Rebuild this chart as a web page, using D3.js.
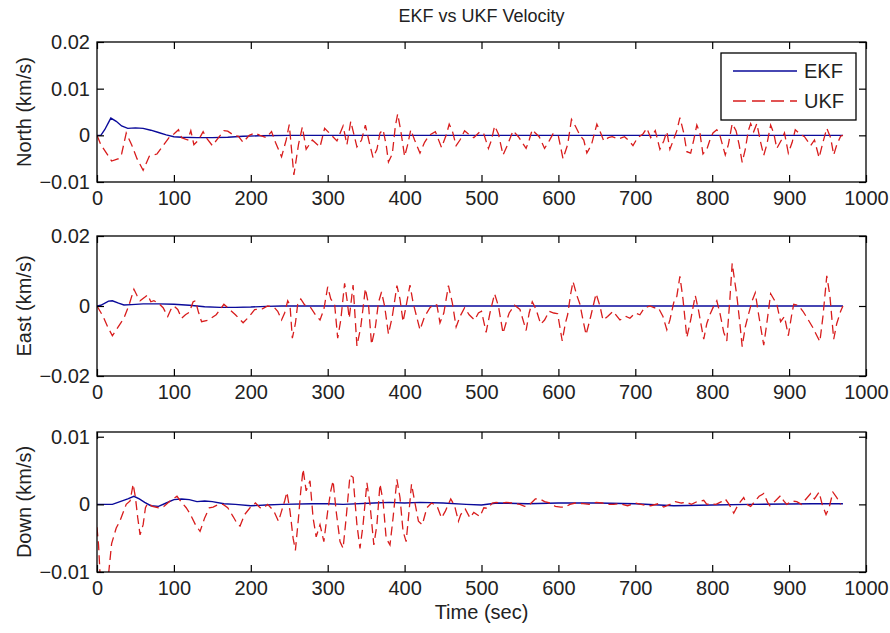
<!DOCTYPE html>
<html><head><meta charset="utf-8">
<script src="https://cdn.jsdelivr.net/npm/d3@7"></script>
<style>
body{margin:0;background:#fff;}
svg{display:block;}
text{font-family:"Liberation Sans",Arial,sans-serif;}
</style></head>
<body><svg id="c" width="890" height="633"></svg>
<script>
const chartTitle = "EKF vs UKF Velocity";
const xLabel = "Time (sec)";
const xTicks = [0,100,200,300,400,500,600,700,800,900,1000];
const panelNames = ["North (km/s)","East (km/s)","Down (km/s)"];
const northTicks = [-0.01,0,0.01,0.02];
const eastTicks = [-0.02,0,0.02];
const downTicks = [-0.01,0,0.01];
const legendNames = ["EKF","UKF"];

const northEkfT = [0,5,10,18,25,32,40,50,60,70,80,90,100,110,130,150,170,190,210,250,970];
const northEkfV = [0,0,0.0012,0.0037,0.003,0.002,0.0015,0.0016,0.0015,0.0011,0.0006,0.0001,-0.0003,-0.0004,-0.0005,-0.0005,-0.0004,-0.0002,-0.0001,0,0];
const northUkfT = [0,5,19,28,32,38,45,52,60,68,78,95,100,106,110,118,122,126,132,138,142,150,158,165,170,178,184,190,198,205,212,220,227,232,240,246,250,256,262,267,272,280,290,296,305,312,320,325,330,338,344,349,354,359,364,368,372,376,379,384,388,391,395,400,404,408,413,420,426,432,440,448,454,458,462,467,472,478,483,490,498,503,509,513,517,522,528,534,541,548,558,562,566,570,575,582,588,593,600,606,612,617,622,628,633,637,643,650,655,659,665,670,678,686,692,697,703,710,715,720,726,732,737,741,745,750,754,758,763,767,772,776,780,784,788,793,797,801,806,810,817,821,826,831,835,839,843,847,850,854,858,863,867,871,876,880,884,890,894,899,904,908,914,920,928,933,939,944,949,954,958,962,967,970];
const northUkfV = [0,-0.002,-0.0055,-0.005,-0.004,0.0005,-0.002,-0.005,-0.0075,-0.0045,-0.004,-0.0002,0.0003,0.0012,-0.0005,-0.001,0.001,-0.002,-0.001,0.0008,-0.0005,-0.0022,-0.0005,0.001,0.0009,0,-0.0002,-0.0015,0,0.0005,0,-0.0005,0.0008,-0.0015,-0.0046,-0.001,0.0023,-0.0085,-0.002,0.0018,-0.003,-0.001,-0.0025,0.0015,0,-0.0012,0.002,-0.002,0.003,-0.0025,-0.001,0.0022,-0.0015,-0.0048,-0.003,0.0005,0.0012,-0.002,-0.0057,-0.004,0.002,0.0046,0.001,-0.0045,-0.002,0.0012,-0.001,-0.0038,-0.0015,0,0.0008,-0.0026,0,0.0024,0.001,-0.0022,-0.001,0.001,0.0003,-0.0005,0.0008,0.0003,-0.0028,-0.001,0.002,0.0003,-0.0042,-0.002,0.001,-0.0003,-0.0028,-0.001,0.0012,0.0005,-0.0003,-0.0028,-0.0012,0.0003,-0.0002,-0.005,-0.002,0.0034,0.002,0,-0.001,-0.0038,-0.002,0.0024,0.0005,-0.0012,-0.0005,-0.0003,-0.0008,-0.0003,-0.0012,-0.0022,-0.0005,0.0003,0.0015,-0.0005,0.001,-0.003,-0.0012,0.0008,-0.003,-0.0008,0.001,0.0038,0.0005,-0.0035,-0.0038,-0.001,0.0022,0.0005,-0.004,-0.003,-0.001,0.0005,0.0012,0,-0.0042,-0.002,0.0025,0.001,-0.002,-0.0058,-0.003,0.001,0.0025,0.0008,0.0025,-0.0015,-0.0043,-0.002,0.0022,0.0005,-0.0028,-0.001,0.0005,-0.0038,-0.0015,0.0012,0.0003,-0.0003,-0.0022,-0.001,-0.0048,-0.0015,0.0015,-0.0005,-0.0042,-0.002,-0.0002,0];

const eastEkfT = [0,5,15,20,28,35,45,60,80,100,120,140,160,180,200,220,240,970];
const eastEkfV = [0,0.0002,0.0014,0.0015,0.0008,0.0003,0.0004,0.0006,0.0006,0.0005,0.0002,-0.0002,-0.0004,-0.0004,-0.0003,-0.0001,0,0];
const eastUkfT = [0,8,14,20,26,35,42,48,52,56,62,66,70,74,80,86,92,96,100,105,110,115,120,125,128,132,136,145,155,160,165,170,180,190,198,205,215,222,230,235,240,244,248,251,254,258,261,265,270,278,284,290,295,300,304,309,313,317,322,325,328,333,338,343,349,353,357,362,366,370,374,379,384,390,394,398,402,407,411,415,420,426,433,438,442,446,451,457,462,467,472,478,484,491,496,500,506,511,517,522,528,533,536,543,550,558,562,566,571,577,582,588,594,599,605,609,612,616,619,624,628,632,636,642,649,654,658,664,671,680,688,693,700,706,712,719,725,730,736,741,745,750,754,758,762,767,772,778,782,789,793,797,802,806,810,815,819,823,826,830,832,836,839,843,847,852,856,860,867,871,876,880,884,889,894,899,903,906,912,918,925,931,935,940,944,949,953,958,962,967,970];
const eastUkfV = [0,-0.003,-0.006,-0.0085,-0.0065,-0.0035,0.0005,0.0048,0.003,0.0015,0.0025,0.0032,0.0012,0.0015,0.0008,-0.0005,-0.003,-0.001,0,-0.001,-0.0035,-0.0025,-0.0018,0.0012,0.0015,-0.0018,-0.0045,-0.004,-0.0025,-0.001,0.0005,-0.0005,-0.0025,-0.0048,-0.003,-0.001,-0.0008,0,-0.0003,-0.0015,-0.004,-0.002,0.0015,0.0002,-0.0092,-0.005,0.0005,0.002,0.0003,-0.0005,-0.0025,-0.004,-0.001,0.0055,0.002,0.0005,-0.0092,-0.004,0.0065,0.002,-0.0035,0.006,-0.0114,-0.006,0.005,0.0005,-0.011,-0.006,0.001,0.004,0,-0.008,-0.003,0.0058,0.002,-0.0045,0,0.006,0.001,-0.0025,-0.0068,-0.003,-0.0005,0.0005,0.0003,-0.0048,-0.002,0.0058,0.001,-0.006,-0.003,-0.0005,-0.0025,-0.004,-0.002,-0.0015,-0.0075,-0.002,0.0035,0,-0.0078,-0.004,-0.002,0.0002,-0.001,-0.007,-0.002,0.0012,-0.001,-0.0052,-0.004,-0.0015,-0.002,-0.0022,-0.01,-0.005,-0.0025,0.0035,0.007,0.003,0.0005,-0.004,-0.0082,-0.003,0.0035,0,-0.004,-0.003,-0.0015,-0.004,-0.003,-0.0035,-0.002,-0.0025,-0.0005,0,-0.0005,-0.0005,-0.003,-0.0068,-0.004,0.001,0.0028,0.0085,0.002,-0.009,-0.004,0.003,-0.001,-0.0095,-0.005,-0.0025,0,0.0015,-0.002,-0.0075,-0.01,0.002,0.0122,0.006,0.003,-0.005,-0.0116,-0.006,-0.0025,0.0015,0.0038,-0.002,-0.0112,-0.005,0.0035,0.002,0.0005,-0.0045,-0.003,-0.0085,-0.003,0.0005,0.0002,-0.0015,-0.004,-0.0062,-0.008,-0.0102,-0.003,0.0086,0.003,-0.0095,-0.005,-0.0015,0];

const downEkfT = [0,20,30,40,48,55,62,70,80,90,100,110,120,130,140,150,165,180,200,220,240,280,300,320,360,380,400,420,450,480,500,520,560,600,650,700,750,800,850,930,970];
const downEkfV = [0,0,0.0004,0.0008,0.0012,0.0008,0.0003,-0.0002,-0.0003,0.0002,0.0007,0.0008,0.0007,0.0004,0.0005,0.0004,0.0001,0,-0.0002,-0.0001,0,0.0001,0.0001,0,0.0002,0.0003,0.0002,0.0003,0.0002,0,-0.0001,0.0002,0.0001,0.0002,0.0002,0.0001,-0.0002,-0.0001,0,0.0001,0.0001];
const downUkfT = [0,2,5,10,14,19,25,30,38,43,47,50,53,56,60,63,66,72,80,87,95,104,110,116,121,128,134,140,146,151,158,164,170,177,183,186,192,199,206,212,216,222,230,236,240,244,247,251,255,258,262,265,268,272,277,281,285,290,295,300,304,307,311,316,320,324,329,333,338,342,346,351,355,360,364,368,372,376,381,385,390,394,398,402,405,409,413,418,423,429,435,442,448,453,460,465,470,473,479,485,490,498,503,508,514,519,526,532,540,550,556,562,570,576,582,589,596,603,609,615,622,632,640,649,657,665,672,680,690,700,712,720,730,737,745,752,760,767,773,780,786,789,793,797,805,812,817,822,828,834,841,845,850,856,861,867,872,875,882,889,893,897,903,910,916,922,928,933,939,943,948,952,957,962,967];
const downUkfV = [-0.0034,-0.006,-0.0125,-0.014,-0.0115,-0.0058,-0.0035,-0.0024,0,0.0005,0.003,0.001,-0.002,-0.0045,-0.003,-0.0005,0.0002,-0.0003,-0.0005,-0.0003,0.0005,0.0012,0.0003,-0.0005,-0.0014,-0.003,-0.004,-0.002,-0.0005,-0.0004,0,0,-0.0005,-0.0018,-0.003,-0.0032,-0.0015,-0.0005,0.0002,-0.0005,-0.0006,0,-0.001,-0.0025,-0.001,0.0005,0.0018,-0.001,-0.005,-0.0068,-0.002,0.002,0.0052,0.002,0.0035,-0.002,-0.0048,-0.003,-0.0055,-0.001,0.002,0.0035,-0.001,-0.0055,-0.0065,-0.002,0.0043,0.004,-0.003,-0.0065,-0.003,0.0032,0,-0.006,-0.003,0.003,0.0005,-0.005,-0.006,-0.002,0.0037,0.001,-0.004,-0.0055,-0.002,0.003,0.0005,-0.0025,-0.003,-0.0005,0.0002,-0.0002,-0.002,-0.001,0.0008,-0.0002,-0.0025,-0.0015,-0.0007,-0.002,-0.0012,-0.0018,-0.0005,-0.0006,0.0002,0.0003,0.0002,0.0003,0.0002,0,-0.0003,-0.0001,0.0008,0.0008,0.0004,0.0002,-0.0003,-0.0004,-0.0004,0,0.0002,0.0001,0,0.0003,0.0002,0,0,0.0001,-0.0002,0.0002,-0.0001,-0.0002,0.0001,-0.0004,0,0.0004,0.0002,0.0003,0,0.0004,0.0005,0.0006,0,0.0001,0,0.0004,0.0008,0,-0.0013,0,0.001,0,-0.0003,0.0005,0.0012,0.0016,0.0003,-0.0002,0.0005,0.0013,0.0005,0,0.0005,0.0004,0,0.0008,0.0016,0.0008,0.0018,0,-0.0015,-0.0005,0.0018,0.001,0];

const ekfColor = "#0a0a9a";
const ukfColor = "#d81c1c";

const svg = d3.select("#c");
const left = 97, right = 866, ph = 140;
const tops = [42, 236, 432];
const x = d3.scaleLinear().domain([0,1000]).range([left,right]);

const panels = [
  {name: panelNames[0], dom: [-0.01,0.02], ticks: northTicks, ekf: [northEkfT,northEkfV], ukf: [northUkfT,northUkfV]},
  {name: panelNames[1], dom: [-0.02,0.02], ticks: eastTicks, ekf: [eastEkfT,eastEkfV], ukf: [eastUkfT,eastUkfV]},
  {name: panelNames[2], dom: [-0.01,0.0107], ticks: downTicks, ekf: [downEkfT,downEkfV], ukf: [downUkfT,downUkfV]}
];
const fmt = d => d === 0 ? "0" : d3.format("")(+d.toFixed(3));

function styleAxis(g){
  g.attr("font-size", null).attr("font-family", null);
  g.selectAll("text").attr("font-size", 20).attr("fill","#222");
  g.selectAll("line").attr("stroke","#000").attr("stroke-width",1.2);
  g.select(".domain").remove();
}

panels.forEach((p, i) => {
  const top = tops[i];
  const y = d3.scaleLinear().domain(p.dom).range([top+ph, top]);
  const g = svg.append("g");
  const cid = "clip"+i;
  svg.append("clipPath").attr("id", cid).append("rect")
    .attr("x", left).attr("y", top).attr("width", right-left).attr("height", ph);

  g.append("rect").attr("x",left).attr("y",top).attr("width",right-left).attr("height",ph).attr("fill","#fff");

  const line = d3.line().x(d => x(d[0])).y(d => y(d[1]));
  const toPts = arr => arr[0].map((t,k) => [t, arr[1][k]]);
  const plot = g.append("g").attr("clip-path", `url(#${cid})`);
  plot.append("path").attr("d", line(toPts(p.ekf))).attr("fill","none").attr("stroke",ekfColor).attr("stroke-width",1.4);
  plot.append("path").attr("d", line(toPts(p.ukf))).attr("fill","none").attr("stroke",ukfColor).attr("stroke-width",1.3).attr("stroke-dasharray","9,5");

  g.append("g").attr("transform",`translate(0,${top+ph})`)
    .call(d3.axisBottom(x).tickValues(xTicks).tickSize(-7).tickSizeOuter(0).tickPadding(9).tickFormat(d3.format("d"))).call(styleAxis);
  g.append("g").attr("transform",`translate(0,${top})`)
    .call(d3.axisTop(x).tickValues(xTicks).tickSize(-7).tickSizeOuter(0).tickFormat("")).call(styleAxis);
  g.append("g").attr("transform",`translate(${left},0)`)
    .call(d3.axisLeft(y).tickValues(p.ticks).tickSize(-7).tickSizeOuter(0).tickPadding(7).tickFormat(fmt)).call(styleAxis);
  g.append("g").attr("transform",`translate(${right},0)`)
    .call(d3.axisRight(y).tickValues(p.ticks).tickSize(-7).tickSizeOuter(0).tickFormat("")).call(styleAxis);

  g.append("rect").attr("x",left).attr("y",top).attr("width",right-left).attr("height",ph)
    .attr("fill","none").attr("stroke","#000").attr("stroke-width",1.3);

  g.append("text").attr("transform",`translate(24,${top+ph/2}) rotate(-90)`)
    .attr("text-anchor","middle").attr("dominant-baseline","central")
    .attr("font-size",20).attr("fill","#222").text(p.name);
});

// title & x label
svg.append("text").attr("x",(left+right)/2).attr("y",16).attr("text-anchor","middle")
  .attr("dominant-baseline","central").attr("font-size",18).attr("fill","#222").text(chartTitle);
svg.append("text").attr("x",(left+right)/2).attr("y",612).attr("text-anchor","middle")
  .attr("dominant-baseline","central").attr("font-size",20).attr("fill","#222").text(xLabel);

// legend
const lg = svg.append("g");
lg.append("rect").attr("x",721).attr("y",53).attr("width",135).attr("height",67)
  .attr("fill","#fff").attr("stroke","#000").attr("stroke-width",1.3);
const legendColors = [ekfColor, ukfColor];
const legendDash = [null, "13,6"];
legendNames.forEach((n, k) => {
  const ly = 71 + k*30;
  lg.append("line").attr("x1",733).attr("x2",797).attr("y1",ly).attr("y2",ly)
    .attr("stroke",legendColors[k]).attr("stroke-width",1.4).attr("stroke-dasharray",legendDash[k]);
  lg.append("text").attr("x",804).attr("y",ly).attr("dominant-baseline","central")
    .attr("font-size",20).attr("fill","#222").text(n);
});
</script></body></html>
